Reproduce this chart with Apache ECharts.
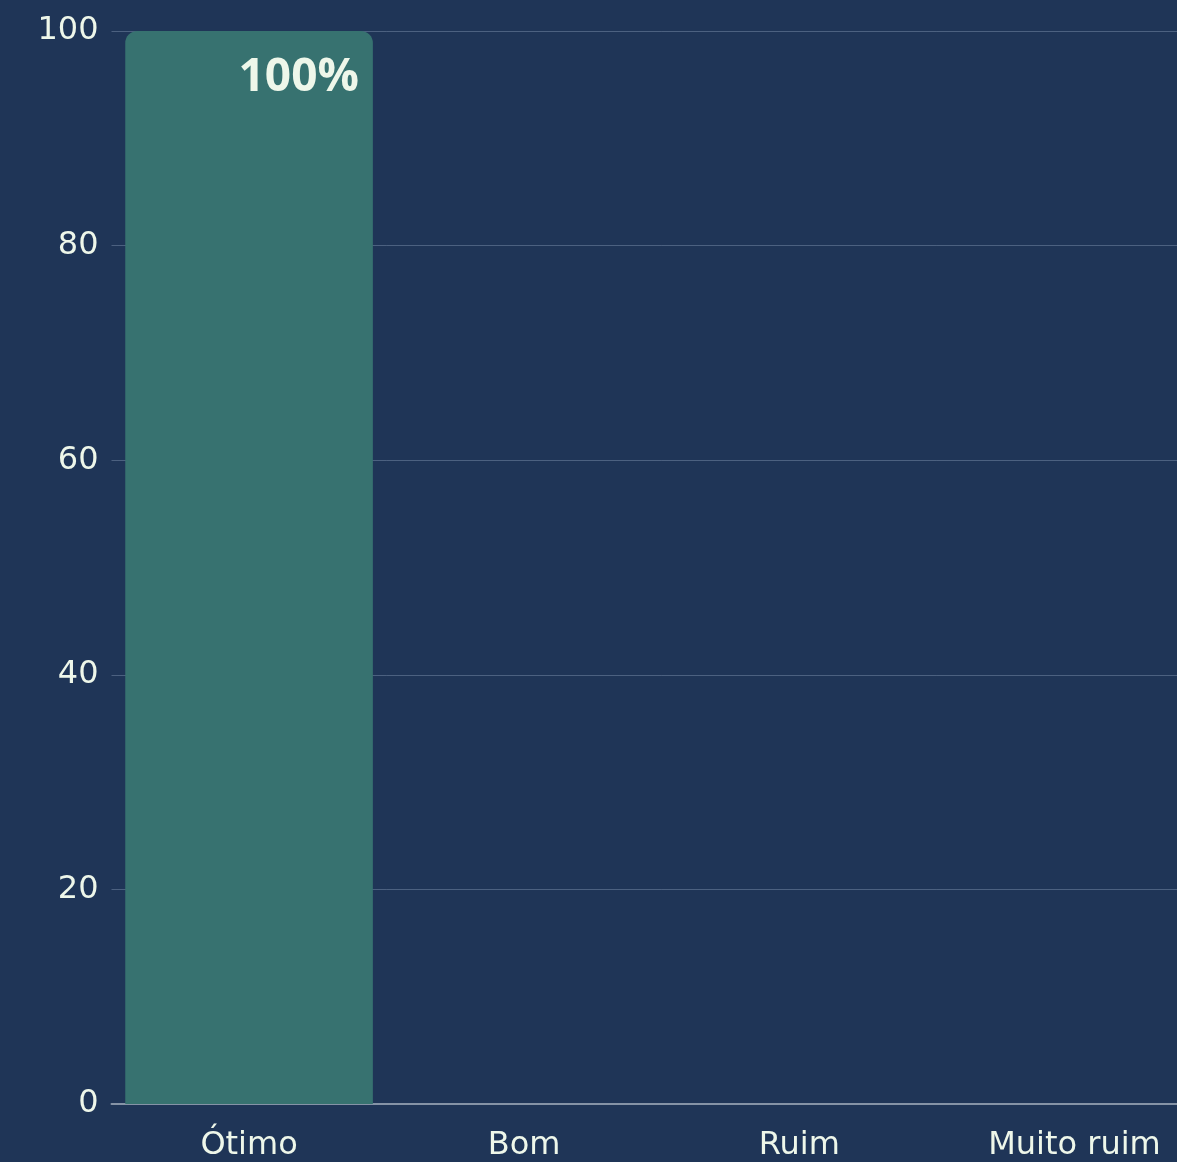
<!DOCTYPE html>
<html>
<head>
<meta charset="utf-8">
<style>
html,body{margin:0;padding:0;background:#1f3557;overflow:hidden;}
#chart{width:1212px;height:1162px;}
</style>
<script src="https://cdn.jsdelivr.net/npm/echarts@6/dist/echarts.min.js"></script>
</head>
<body>
<div id="chart"></div>
<script>
const categories = ['Ótimo', 'Bom', 'Ruim', 'Muito ruim'];
const values = [100, 0, 0, 0];
const yTicks = [0, 20, 40, 60, 80, 100];

const textColor = '#eef7ea';
const chart = echarts.init(document.getElementById('chart'));
chart.setOption({
  backgroundColor: '#1f3557',
  animation: false,
  grid: { left: 111.5, right: 0, top: 31, bottom: 58 },
  xAxis: {
    type: 'category',
    data: categories,
    axisTick: { show: false },
    axisLine: { show: true, lineStyle: { color: '#8593a6', width: 2 } },
    axisLabel: { color: textColor, fontSize: 32, fontFamily: 'DejaVu Sans', margin: 26 }
  },
  yAxis: {
    type: 'value',
    min: yTicks[0],
    max: yTicks[yTicks.length - 1],
    interval: 20,
    axisLine: { show: false },
    axisTick: { show: false },
    splitLine: { lineStyle: { color: 'rgba(160,180,205,0.35)', width: 1 } },
    axisLabel: { color: textColor, fontSize: 32, fontFamily: 'DejaVu Sans', margin: 13, padding: [6, 0, 0, 0] }
  },
  series: [{
    type: 'bar',
    data: values,
    barCategoryGap: '10%',
    itemStyle: { color: '#377270', borderRadius: [12, 12, 0, 0] },
    label: {
      show: true,
      position: 'insideTopRight',
      distance: 14,
      offset: [0, 10],
      formatter: p => p.value > 0 ? p.value + '%' : '',
      color: textColor,
      fontSize: 46,
      fontWeight: 'bold',
      fontFamily: 'Open Sans'
    }
  }]
});
</script>
</body>
</html>
